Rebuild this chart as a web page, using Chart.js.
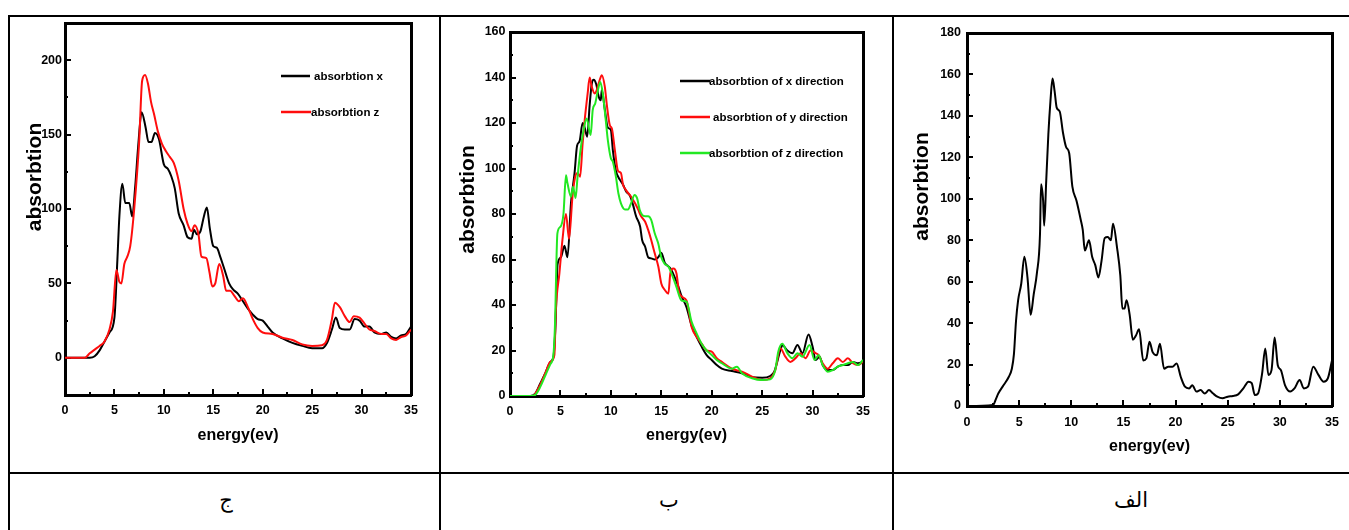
<!DOCTYPE html>
<html><head><meta charset="utf-8">
<script src="https://cdn.jsdelivr.net/npm/chart.js@4.4.1/dist/chart.umd.min.js"></script>
<style>
html,body{margin:0;padding:0;background:#fff;width:1349px;height:530px;overflow:hidden;position:relative}
.ln{position:absolute;background:#000}
canvas{position:absolute}
.cap{position:absolute;top:486px;height:28px;line-height:28px;font-family:'Liberation Serif','DejaVu Sans',serif;font-size:21px;text-align:center;direction:rtl;color:#000}
</style></head><body>
<div class="ln" style="left:8px;top:15px;width:1400px;height:2px"></div>
<div class="ln" style="left:8px;top:472px;width:1400px;height:2px"></div>
<div class="ln" style="left:8px;top:15px;width:2px;height:530px"></div>
<div class="ln" style="left:439px;top:15px;width:2px;height:530px"></div>
<div class="ln" style="left:892px;top:15px;width:2px;height:530px"></div>
<canvas id="c1" width="429" height="455" style="left:10px;top:17px"></canvas>
<canvas id="c2" width="451" height="455" style="left:441px;top:17px"></canvas>
<canvas id="c3" width="455" height="455" style="left:894px;top:17px"></canvas>
<div class="cap" style="left:10px;width:432px">ج</div>
<div class="cap" style="left:441px;width:456px">ب</div>
<div class="cap" style="left:894px;width:474px">الف</div>
<script>
// ---------- tick labels ----------
const X_TICKS = [0,5,10,15,20,25,30,35];
const X_MINOR = [2.5,7.5,12.5,17.5,22.5,27.5,32.5];
const Y1_TICKS = [0,50,100,150,200];
const Y1_MINOR = [25,75,125,175];
const Y2_TICKS = [0,20,40,60,80,100,120,140,160];
const Y2_MINOR = [10,30,50,70,90,110,130,150];
const Y3_TICKS = [0,20,40,60,80,100,120,140,160,180];
const Y3_MINOR = [10,30,50,70,90,110,130,150,170];

// ---------- panel ج : absorbtion x / z ----------
const P1_X_E = [0,2.5,3,3.5,4,4.5,5,5.3,5.5,5.8,6.1,6.5,6.8,7.1,7.4,7.75,8.15,8.45,8.75,9.1,9.5,10,10.4,10.75,11.1,11.5,12,12.4,12.8,13.05,13.35,13.7,14.05,14.35,14.65,15,15.35,15.7,16.1,16.6,17,17.5,18,18.5,19,19.5,20,20.5,21,22,23,24,25,26,26.5,27,27.4,27.8,28.3,28.8,29.3,29.8,30.3,30.8,31.3,32,32.5,33,33.5,34,34.5,35];
const P1_X_A = [0,0,1,5,11,17,27,66,95,117,104,104,95,115,142,165,155,145,145,151,147,130,127,122,114,97,89,81,80,86,83,85,95,101,87,75,74,68,60,50,46,43,38,33,29,26,25,21,17,13,10,8,6.5,6.5,10,19,27,20,19,19,26,25,21,21,17,16,17,14,13,15,16,21];
const P1_Z_E = [0,2,2.5,3,3.5,4,4.5,4.85,5.2,5.5,5.7,6.0,6.3,6.6,7.0,7.5,7.8,8.1,8.4,8.7,9.0,9.4,9.8,10.2,10.6,11.0,11.5,12.0,12.4,12.8,13.1,13.5,13.8,14.3,14.6,14.9,15.2,15.6,16.0,16.3,16.7,17.1,17.6,18.0,18.5,19,19.5,20,21,22,23,24,25,26,26.5,27,27.3,27.8,28.3,28.8,29.2,29.8,30.3,30.8,31.3,32,32.5,33,33.5,34,34.5,35];
const P1_Z_A = [0,0,3,5.5,8,11,19,31,59,51,50,63,68,75,100,145,186,190,184,172,164,152,144,139,135,131,119,100,90,85,89,83,68,67,58,48,50,63,55,45,45,42,38,40,34,26,20,17,16,13.5,12,9,8,8.5,12,26,37,34,28,24,28,27,23,19,18,16,16,13,12,14,15,19];

// ---------- panel ب : x / y / z direction ----------
const P2_X_E = [0,2,2.5,3,3.5,4,4.3,4.5,4.72,5.05,5.4,5.7,6.05,6.4,6.65,6.9,7.2,7.4,7.65,7.9,8.1,8.3,8.55,8.8,9.0,9.1,9.4,9.7,10.0,10.2,10.5,10.9,11.2,11.5,11.9,12.2,12.5,12.9,13.1,13.4,13.7,14.0,14.35,14.7,15.0,15.35,15.7,16.0,16.3,16.7,17.0,17.5,18,18.5,19,19.5,20,20.5,21,22,23,24,25,25.8,26.2,26.8,27,27.5,28,28.5,29,29.6,30,30.3,30.7,31,31.5,32,32.5,33,33.5,34,34.5,35];
const P2_X_A = [0,0,1,5.5,10,15,17,30,58,61,66,61,85,98,110,112,120,118,114,128,137,139,137,131.5,130,134.5,126,118,117,108,99,95,93,90,88,84,79,74.5,68.6,65.6,61,60.5,60,61,63,58.5,57,55.4,52.5,48,44,39,31,26,21.7,18,15.8,13.6,12,11,10,8.2,8,8.8,10.7,20,22.4,20,18.8,22.4,18.8,27,21.7,15.8,17.3,13.6,11.4,11.4,12.9,13.6,13.6,15,14.4,15];
const P2_Y_E = [0,2.3,2.5,3,3.5,4,4.4,4.55,4.9,5.2,5.55,5.85,6.2,6.5,6.7,6.95,7.2,7.4,7.7,7.9,8.1,8.4,8.6,8.9,9.1,9.4,9.6,9.9,10.1,10.4,10.7,11.0,11.2,11.5,12.0,12.4,12.7,13.0,13.4,13.7,14.0,14.35,14.7,15.0,15.35,15.7,15.9,16.2,16.5,16.8,17.5,18,18.5,19,19.5,20,20.5,21,22,23,24,25,25.8,26.3,26.8,27.3,27.8,28.3,28.8,29.3,29.8,30.3,30.6,31,31.5,32,32.5,33,33.5,34,34.5,35];
const P2_Y_A = [0,0,1,5,10,15,18,38,54,68.6,80,69,88,97,98,96.4,111,121,133,140,136,133,134.5,139,141,136,128,119,117.6,108,99,98,93,90.5,87.6,84.7,82,79,76.6,73,68.6,62.7,57,49.5,46.6,45,54,56,54,45,42,30.5,26,23,20,19.5,16.6,15,12,10.7,8.5,7,7.8,11.4,21,17.3,15,16.6,18.8,16.6,20,18.8,18,14.4,12,14.4,16.6,15,16.6,14.4,13.6,15];
const P2_Z_E = [0,2,2.5,3,3.5,4,4.3,4.45,4.7,5.0,5.3,5.55,5.7,6.05,6.25,6.5,6.7,6.95,7.3,7.6,8.0,8.2,8.45,8.7,8.95,9.2,9.5,9.7,10.0,10.2,10.5,10.75,11.0,11.4,11.7,12.0,12.35,12.6,12.85,13.1,13.4,13.7,14.0,14.35,14.7,15.0,15.35,15.7,16.0,16.5,17.0,17.5,18,18.5,19,19.5,20,20.5,21,22,22.5,23,24,25,25.8,26.3,26.6,27,27.5,28,28.5,29,29.7,30.2,30.6,31,31.5,32,32.5,33,33.5,34,34.5,35];
const P2_Z_A = [0,0,0.5,4,9,14,18,30,71.5,74.4,80,97,93.5,87.6,92,87,96.4,106.7,117,122,114.7,125.7,128.6,134,138,133,121,112.5,104.5,103,96.4,89,84.7,82,82,84.7,88.4,87,82,79.6,79,79,77.4,71.5,67,61,58,57,54,48,42,41.5,32.7,27.5,23,20,18,15.8,14.4,12,12.9,10,7.8,7,7.3,11.4,19.5,23,18.8,16.6,18.8,17.3,22.4,15.8,18,13.6,10.7,11.4,12.9,13.6,14.4,15,13.6,15.8];

// ---------- panel الف ----------
const P3_E = [0,2.5,2.8,3,3.5,4,4.3,4.5,4.7,4.9,5.2,5.5,5.8,6.1,6.4,6.7,7,7.1,7.3,7.4,7.6,7.8,8.0,8.2,8.4,8.6,8.9,9.2,9.5,9.8,10.1,10.5,10.9,11.1,11.3,11.7,12,12.3,12.6,12.9,13.2,13.5,13.8,14.0,14.4,14.7,14.9,15.1,15.3,15.6,15.9,16.2,16.5,16.9,17.2,17.5,17.8,18.2,18.5,18.9,19.3,19.7,20.1,20.5,20.9,21.3,21.6,22,22.4,22.8,23.2,23.6,24,24.5,25,25.5,26,26.5,27,27.3,27.6,27.9,28.3,28.6,28.9,29.2,29.5,29.8,30.1,30.5,31,31.4,31.9,32.3,32.7,33.2,33.7,34.2,34.6,35];
const P3_A = [0,0.5,3.7,6,10,14,18,25,41,51,59,72,62,44,54,64,83,107,99,87,109,131,147,158,152,144,142,132,125,122,106,99,90,85,75,80,72,68,62,70,81,81.5,80,88,76,63,47,47,51,44,32,34,37,22,23,31,26,24.5,30,18,19,19,20.5,14,9.3,8.5,10,7,7.7,6,7.7,6,4.5,3.7,4.5,4.8,5.6,8.5,11.7,11,5.3,6,15.7,27.8,15,17.3,33,19.7,17.3,10,7,8.5,12.5,8.5,9.3,19,15,11.7,13.3,22];

const FONT_NUM = "'Liberation Sans',Arial,sans-serif";
const FONT_TTL = "'Liberation Sans',Arial,sans-serif";

function pts(E, A) { return E.map((e, i) => ({x: e, y: A[i]})); }
const fit = (w, h) => (s) => {
  if (w !== null) s.width = w;
  if (h !== null) s.height = h;
  s.paddingLeft = 0; s.paddingRight = 0; s.paddingTop = 0; s.paddingBottom = 0;
};
const setTicks = (arr) => (s) => { s.ticks = arr.map(v => ({value: v})); };

const insideLegend = {
  id: 'insideLegend',
  afterDatasetsDraw(chart, args, opts) {
    if (!opts || !opts.items || !opts.items.length) return;
    const ctx = chart.ctx;
    ctx.save();
    ctx.font = 'bold ' + opts.size + 'px ' + FONT_NUM;
    ctx.textBaseline = 'middle';
    ctx.textAlign = 'left';
    chart.data.datasets.forEach((ds, i) => {
      const it = opts.items[i];
      if (!it) return;
      ctx.strokeStyle = ds.borderColor;
      ctx.lineWidth = 2.5;
      ctx.beginPath(); ctx.moveTo(it.x0, it.y); ctx.lineTo(it.x1, it.y); ctx.stroke();
      ctx.fillStyle = '#000';
      ctx.fillText(ds.label, it.tx, it.y + 1);
    });
    ctx.restore();
  }
};

function makeChart(id, c) {
  const TW = c.L - c.yLabelW;
  const tickFont = {family: FONT_NUM, size: 12.5, weight: 'bold'};
  const hidden = {grid: {display: false}, border: {display: false}, ticks: {display: false}};
  new Chart(document.getElementById(id), {
    type: 'line',
    data: {datasets: c.datasets},
    options: {
      responsive: false, animation: false, events: [],
      layout: {padding: {left: 0, top: c.T, right: c.R, bottom: 0}},
      elements: {point: {radius: 0}, line: {borderWidth: 2, cubicInterpolationMode: 'monotone'}},
      plugins: {legend: {display: false}, tooltip: {enabled: false}, insideLegend: c.legend},
      scales: {
        x: {type: 'linear', position: 'bottom', min: 0, max: 35, weight: 0,
          afterBuildTicks: setTicks(X_TICKS), afterFit: fit(null, c.B),
          grid: {display: true, drawOnChartArea: false, drawTicks: true, tickLength: -6, tickWidth: 2, lineWidth: 2, tickColor: '#000'},
          border: {display: true, width: 3, color: '#000'},
          ticks: {padding: c.xTickPad, color: '#000', font: tickFont, maxRotation: 0, autoSkip: false},
          title: {display: true, text: 'energy(ev)', color: '#000', font: {family: FONT_TTL, size: 16, weight: 'bold'}, padding: {top: 0, bottom: c.xTitlePad}}},
        xm: {type: 'linear', position: 'bottom', min: 0, max: 35, weight: -1,
          afterBuildTicks: setTicks(X_MINOR), afterFit: fit(null, 0),
          grid: {display: true, drawOnChartArea: false, drawTicks: true, tickLength: -3, tickWidth: 2, lineWidth: 2, tickColor: '#000'},
          border: {display: false}, ticks: {display: false}},
        xt: {type: 'linear', position: 'top', min: 0, max: 35, afterFit: fit(null, 0),
          grid: {display: false}, border: {display: true, width: 3, color: '#000'}, ticks: {display: false}},
        y: {type: 'linear', position: 'left', min: c.yMin, max: c.yMax, weight: 0,
          afterBuildTicks: setTicks(c.yTicks), afterFit: fit(c.yLabelW, null),
          grid: {display: true, drawOnChartArea: false, drawTicks: true, tickLength: -6, tickWidth: 2, lineWidth: 2, tickColor: '#000'},
          border: {display: true, width: 3, color: '#000'},
          ticks: {padding: c.yTickPad, color: '#000', font: tickFont}},
        ym: {type: 'linear', position: 'left', min: c.yMin, max: c.yMax, weight: -1,
          afterBuildTicks: setTicks(c.yMinor), afterFit: fit(0, null),
          grid: {display: true, drawOnChartArea: false, drawTicks: true, tickLength: -3, tickWidth: 2, lineWidth: 2, tickColor: '#000'},
          border: {display: false}, ticks: {display: false}},
        yr: {type: 'linear', position: 'right', min: c.yMin, max: c.yMax, afterFit: fit(0, null),
          grid: {display: false}, border: {display: true, width: 3, color: '#000'}, ticks: {display: false}},
        yt: Object.assign({type: 'linear', position: 'left', weight: 2, stack: 'ttl', stackWeight: c.stackA,
          afterFit: fit(TW, null),
          title: {display: true, text: 'absorbtion', color: '#000', font: {family: FONT_TTL, size: 21, weight: 'bold'}, padding: {top: c.yTitlePad, bottom: 0}}}, hidden),
        ys: Object.assign({type: 'linear', position: 'left', weight: 1, stack: 'ttl', stackWeight: c.stackB,
          afterFit: fit(TW, null)}, hidden)
      }
    },
    plugins: [insideLegend]
  });
}

makeChart('c1', {
  datasets: [
    {label: 'absorbtion x', data: pts(P1_X_E, P1_X_A), borderColor: '#000000', order: 2},
    {label: 'absorbtion z', data: pts(P1_Z_E, P1_Z_A), borderColor: '#ff0d0d', order: 1}
  ],
  yMin: -25, yMax: 225, yTicks: Y1_TICKS, yMinor: Y1_MINOR,
  L: 55, T: 6, R: 28, B: 77, yLabelW: 28, yTickPad: 9, xTickPad: 14.5, xTitlePad: 26.4, yTitlePad: 12.4,
  stackA: 308, stackB: 64,
  legend: {size: 11.5, items: [{x0: 271, x1: 300, y: 59, tx: 304}, {x0: 271, x1: 301, y: 95, tx: 301}]}
});

makeChart('c2', {
  datasets: [
    {label: 'absorbtion of x direction', data: pts(P2_X_E, P2_X_A), borderColor: '#000000', order: 3},
    {label: 'absorbtion of y direction', data: pts(P2_Y_E, P2_Y_A), borderColor: '#ff0d0d', order: 2},
    {label: 'absorbtion of z direction', data: pts(P2_Z_E, P2_Z_A), borderColor: '#22e822', order: 1}
  ],
  yMin: 0, yMax: 160, yTicks: Y2_TICKS, yMinor: Y2_MINOR,
  L: 69, T: 15, R: 29, B: 76, yLabelW: 28, yTickPad: 10.5, xTickPad: 14.5, xTitlePad: 26.4, yTitlePad: 14.3,
  stackA: 335, stackB: 29,
  legend: {size: 11.5, items: [{x0: 239, x1: 269, y: 64, tx: 268}, {x0: 239, x1: 269, y: 100, tx: 272}, {x0: 239, x1: 269, y: 136, tx: 268}]}
});

makeChart('c3', {
  datasets: [
    {label: 'absorbtion', data: pts(P3_E, P3_A), borderColor: '#000000', order: 1}
  ],
  yMin: 0, yMax: 180, yTicks: Y3_TICKS, yMinor: Y3_MINOR,
  L: 73, T: 16, R: 17, B: 66, yLabelW: 28, yTickPad: 12, xTickPad: 15.5, xTitlePad: 15.4, yTitlePad: 15.3,
  stackA: 307, stackB: 66,
  legend: {size: 11.5, items: []}
});
</script>
</body></html>
